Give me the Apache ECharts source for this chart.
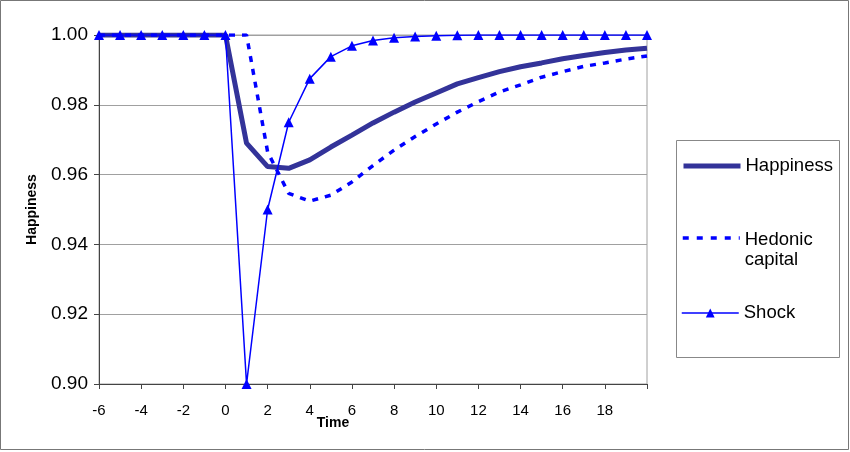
<!DOCTYPE html>
<html>
<head>
<meta charset="utf-8">
<script src="https://cdn.jsdelivr.net/npm/echarts@6/dist/echarts.min.js"></script>
<style>
html,body{margin:0;padding:0;background:#fff;}
#chart{width:850px;height:452px;}
</style>
</head>
<body>
<div id="chart"></div>
<script>
// Time periods
var time = [-6,-5,-4,-3,-2,-1,0,1,2,3,4,5,6,7,8,9,10,11,12,13,14,15,16,17,18,19,20];
// Series values
var happiness = [1,1,1,1,1,1,1,0.9690,0.9623,0.9618,0.9642,0.9679,0.9713,0.9748,0.9779,0.9808,0.9834,0.9860,0.9878,0.9895,0.9909,0.9920,0.9932,0.9941,0.9950,0.9957,0.9962];
var hedonic = [1,1,1,1,1,1,1,1.0,0.9665,0.9546,0.9524,0.9541,0.9579,0.9626,0.9670,0.9709,0.9745,0.9779,0.9809,0.9837,0.9857,0.9879,0.9895,0.9910,0.9920,0.9931,0.9940];
var shock = [1,1,1,1,1,1,1,0.90,0.95,0.975,0.9875,0.9938,0.9969,0.9984,0.9992,0.9996,0.9998,0.9999,1,1,1,1,1,1,1,1,1];
// Axis ticks
var xTicks = [-6,-4,-2,0,2,4,6,8,10,12,14,16,18];
var yTicks = [0.90,0.92,0.94,0.96,0.98,1.00];

function pairs(v){ return time.map(function(t,i){ return [t, v[i]]; }); }

var chart = echarts.init(document.getElementById('chart'), null, {renderer:'canvas'});
var font = 'Liberation Sans, Arial, sans-serif';
var legendText = {fontFamily:font, fontSize:18.5, color:'#000', lineHeight:20,
  rich:{p:{fontSize:2, lineHeight:24}}};
chart.setOption({
  animation:false,
  backgroundColor:'#fff',
  grid:{left:99, right:203, top:35, bottom:68, show:true, borderColor:'#a0a0a0', borderWidth:1},
  xAxis:{
    type:'value', min:-6, max:20, interval:2,
    name:'Time', nameLocation:'middle', nameGap:32, nameMoveOverlap:false,
    nameTextStyle:{fontFamily:font, fontWeight:'bold', fontSize:14, color:'#000', padding:[0,80,0,0]},
    axisLine:{onZero:false, lineStyle:{color:'#444', width:1}},
    axisTick:{show:true, length:5, inside:false, lineStyle:{color:'#444'}},
    axisLabel:{margin:19, fontFamily:font, fontSize:15, color:'#000',
      formatter:function(v){ return xTicks.indexOf(v) >= 0 ? String(v) : ''; }},
    splitLine:{show:false}
  },
  yAxis:{
    type:'value', min:0.90, max:1.00, interval:0.02,
    name:'Happiness', nameLocation:'middle', nameGap:60, nameRotate:90, nameMoveOverlap:false,
    nameTextStyle:{fontFamily:font, fontWeight:'bold', fontSize:14, color:'#000'},
    axisLine:{show:true, onZero:false, lineStyle:{color:'#444', width:1}},
    axisTick:{show:true, length:5, lineStyle:{color:'#444'}},
    axisLabel:{margin:11, fontFamily:font, fontSize:19, color:'#000',
      formatter:function(v){ return v.toFixed(2); }},
    splitLine:{show:true, lineStyle:{color:'#a0a0a0', width:1}}
  },
  legend:[
    {data:['Happiness'], left:681, top:156, padding:0, itemWidth:57, itemHeight:12,
     itemStyle:{opacity:0}, lineStyle:{width:5, color:'#333399'},
     textStyle:legendText},
    {data:['Hedonic capital'], left:681, top:206, padding:0, itemWidth:57, itemHeight:12,
     itemStyle:{opacity:0}, lineStyle:{width:3.5, color:'#0000ff', type:[6,8]},
     formatter:function(){ return '{p| }\nHedonic\ncapital'; },
     textStyle:legendText},
    {data:['Shock'], left:681, top:303, padding:0, itemWidth:57, itemHeight:11,
     lineStyle:{width:1.5, color:'#0000ff'},
     textStyle:legendText}
  ],
  graphic:[
    {type:'rect', shape:{x:0.5, y:0.5, width:848, height:449}, style:{fill:null, stroke:'#777', lineWidth:1}, silent:true},
    {type:'rect', shape:{x:676.5, y:140.5, width:163, height:217}, style:{fill:null, stroke:'#888', lineWidth:1}, silent:true}
  ],
  series:[
    {name:'Happiness', type:'line', data:pairs(happiness), symbol:'none',
     lineStyle:{color:'#333399', width:5}, itemStyle:{color:'#333399'}, z:2},
    {name:'Hedonic capital', type:'line', data:pairs(hedonic), symbol:'none',
     lineStyle:{color:'#0000ff', width:3.5, type:[6,7]}, itemStyle:{color:'#0000ff'}, z:3},
    {name:'Shock', type:'line', data:pairs(shock), symbol:'triangle', symbolSize:10, showSymbol:true,
     lineStyle:{color:'#0000ff', width:1.5}, itemStyle:{color:'#0000ff'}, z:4}
  ]
});
</script>
</body>
</html>
